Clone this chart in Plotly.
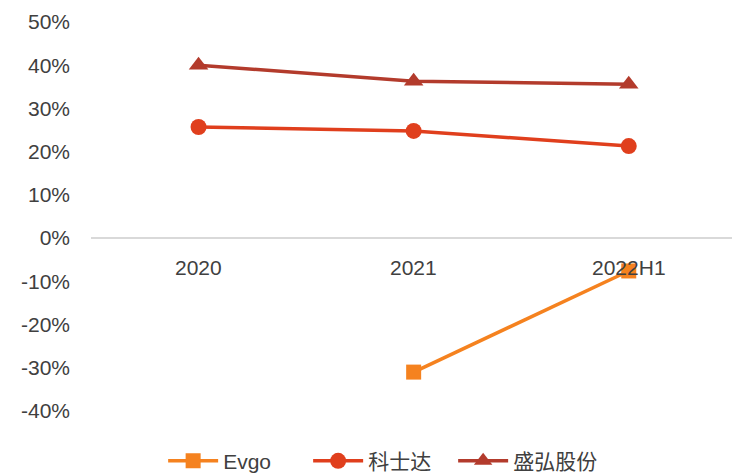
import plotly.graph_objects as go

categories = ["2020", "2021", "2022H1"]
evgo = [None, -31.0, -7.6]
kstar = [25.7, 24.8, 21.3]
sinexcel = [40.0, 36.3, 35.6]
ytick_vals = [-40, -30, -20, -10, 0, 10, 20, 30, 40, 50]
ytick_text = [f"{v}%" for v in ytick_vals]

FONT = "Liberation Sans, Arial, Noto Sans CJK SC, sans-serif"
TXT = "#404040"

fig = go.Figure()
fig.add_trace(go.Scatter(x=[0, 1, 2], y=evgo, name="Evgo", mode="lines+markers",
                         line=dict(color="#F5821F", width=3.5),
                         marker=dict(symbol="square", size=15, color="#F5821F")))
fig.add_trace(go.Scatter(x=[0, 1, 2], y=kstar, name="科士达", mode="lines+markers",
                         line=dict(color="#E03F1D", width=3.5),
                         marker=dict(symbol="circle", size=16, color="#E03F1D")))
fig.add_trace(go.Scatter(x=[0, 1, 2], y=sinexcel, name="盛弘股份", mode="lines+markers",
                         line=dict(color="#B33B2C", width=3.5),
                         marker=dict(symbol="triangle-up", size=17, color="#B33B2C")))

for i, c in enumerate(categories):
    fig.add_annotation(x=i, y=0, text=c, showarrow=False, xref="x", yref="y",
                       yanchor="middle", yshift=-29,
                       font=dict(family=FONT, size=21, color=TXT))

fig.update_layout(
    width=732, height=473,
    margin=dict(l=91, r=0, t=22, b=62, autoexpand=False),
    paper_bgcolor="white", plot_bgcolor="white",
    font=dict(family=FONT, size=21, color=TXT),
    showlegend=True,
    legend=dict(orientation="h", x=0.52, xanchor="center", xref="container",
                y=0.025, yanchor="middle", yref="container",
                font=dict(family=FONT, size=21, color=TXT),
                itemwidth=50, entrywidth=80, traceorder="normal"),
    xaxis=dict(range=[-0.5, 2.48], showticklabels=False, showgrid=False,
               zeroline=False, showline=False),
    yaxis=dict(range=[-40, 50], tickvals=ytick_vals, ticktext=ytick_text,
               showgrid=False, zeroline=True, zerolinecolor="#D9D9D9", zerolinewidth=1.5,
               showline=False, ticklabelstandoff=20),
)

fig.write_html("out.html")
